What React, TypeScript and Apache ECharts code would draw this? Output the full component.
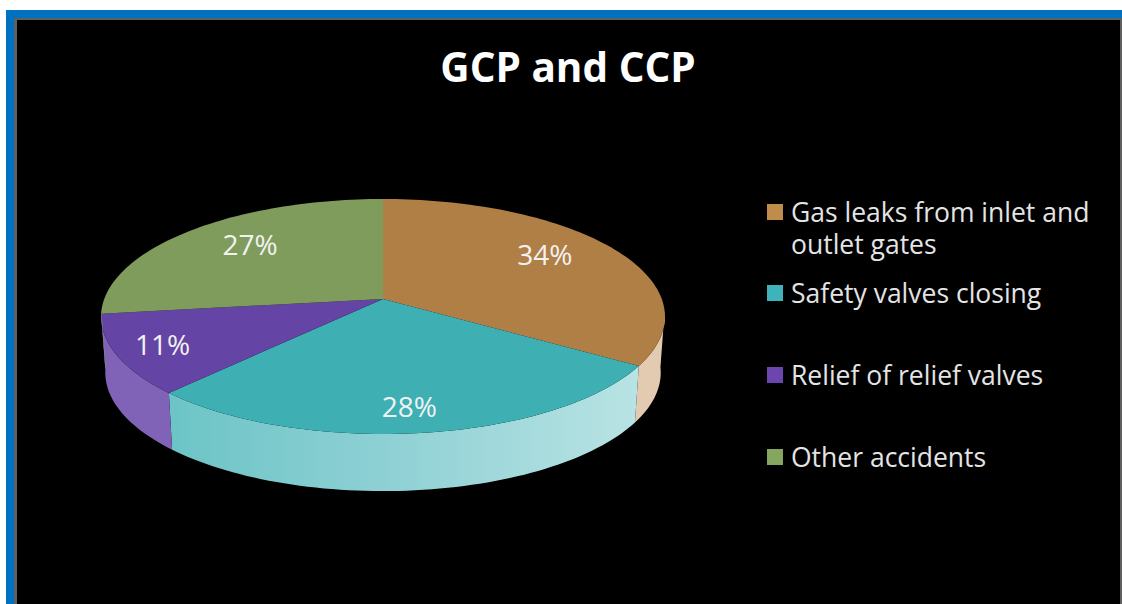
import React, { useEffect, useRef } from "react";
import * as echarts from "echarts";

const categories = [
  "Gas leaks from inlet and outlet gates",
  "Safety valves closing",
  "Relief of relief valves",
  "Other accidents",
];
const shares = [34, 28, 11, 27];
const legendLabels = [
  "Gas leaks from inlet and\noutlet gates",
  "Safety valves closing",
  "Relief of relief valves",
  "Other accidents",
];

const topColors = ["#b07f45", "#3eafb3", "#6444a4", "#809c5c"];
const legendColors = ["#c08c4c", "#3fb3bb", "#6b46b0", "#86a55f"];

// Walls are lit from the right, so the teal wall fades towards pale on that side.
const wallFills: any[] = [
  "#e2cbb0",
  {
    type: "linear",
    x: 0,
    y: 0,
    x2: 1,
    y2: 0,
    colorStops: [
      { offset: 0, color: "#6cc4c6" },
      { offset: 0.45, color: "#8dd0d4" },
      { offset: 1, color: "#b9e3e4" },
    ],
  },
  "#8062b6",
  "#8fa96c",
];

// Perspective disc: apex of the top face, half axes and foreshortening.
const APEX_X = 383;
const APEX_Y = 299;
const AXIS_X = 278.8;
const AXIS_Y = 114.9;
const TILT = 0.149;
const WALL_APEX_Y = 355;
const WALL_SCALE_X = 0.985;
const WALL_SCALE_Y = 1.008;
const FRONT_FROM = 96;
const FRONT_TO = 264;
const LABEL_RADIUS = 0.7;
const labelShifts = [
  [-1, -8],
  [-1, 18],
  [-38, 7],
  [4, -5],
];

const project = (deg: number, r: number, sx: number, sy: number, apexY: number) => {
  const t = (deg * Math.PI) / 180;
  const X = Math.sin(t) * r;
  const Y = -Math.cos(t) * r;
  const d = 1 - TILT * Y;
  return [APEX_X + (sx * AXIS_X * X) / d, apexY + (sy * AXIS_Y * Y) / d];
};

const arc = (from: number, to: number, sx: number, sy: number, apexY: number) => {
  const pts: number[][] = [];
  const steps = Math.max(2, Math.ceil((to - from) / 1.5));
  for (let i = 0; i <= steps; i++) {
    pts.push(project(from + ((to - from) * i) / steps, 1, sx, sy, apexY));
  }
  return pts;
};

const total = shares.reduce((a, b) => a + b, 0);

const sliceSeries = (index: number) => ({
  type: "custom",
  name: categories[index],
  coordinateSystem: "none",
  silent: true,
  itemStyle: { color: legendColors[index] },
  data: [[shares[index]]],
  renderItem: (_params: any, api: any) => {
    const before = shares.slice(0, index).reduce((a, b) => a + b, 0);
    const start = (before / total) * 360;
    const end = start + (api.value(0) / total) * 360;
    const children: any[] = [];
    const wallFrom = Math.max(start, FRONT_FROM);
    const wallTo = Math.min(end, FRONT_TO);
    if (wallTo > wallFrom) {
      const upper = arc(wallFrom, wallTo, 1, 1, APEX_Y);
      const lower = arc(wallFrom, wallTo, WALL_SCALE_X, WALL_SCALE_Y, WALL_APEX_Y).reverse();
      children.push({
        type: "polygon",
        shape: { points: upper.concat(lower) },
        style: { fill: wallFills[index] },
      });
    }
    children.push({
      type: "polygon",
      shape: { points: [[APEX_X, APEX_Y] as number[]].concat(arc(start, end, 1, 1, APEX_Y)) },
      style: { fill: topColors[index] },
    });
    const [lx, ly] = project((start + end) / 2, LABEL_RADIUS, 1, 1, APEX_Y);
    children.push({
      type: "text",
      x: lx + labelShifts[index][0],
      y: ly + labelShifts[index][1],
      style: {
        text: `${api.value(0)}%`,
        fill: "#f2f2f2",
        fontFamily: "Open Sans",
        fontSize: 28,
        align: "center",
        verticalAlign: "middle",
      },
    });
    return { type: "group", children };
  },
});

// The two-line entry keeps its swatch level with the first line: the tiny second
// sub-path stretches the icon box downwards without drawing anything visible.
const legendTops = [196, 277, 359, 441];
const tallIcon = "path://M0 0H16V16H0Z M0 48h0.01v0.01h-0.01Z";

const legends = categories.map((name, i) => ({
  left: 767,
  top: legendTops[i],
  padding: 0,
  orient: "vertical",
  selectedMode: false,
  data: [name],
  icon: i === 0 ? tallIcon : "rect",
  itemWidth: 16,
  itemHeight: i === 0 ? 48 : 16,
  itemGap: 0,
  formatter: () => legendLabels[i],
  textStyle: {
    color: "#e4e4e4",
    fontFamily: "Open Sans",
    fontSize: 26.5,
    lineHeight: 32,
    padding: [0, 0, 0, 3],
  },
}));

const frame = [
  { x: 6, y: 10, w: 1116, h: 8, fill: "#0070c0" },
  { x: 6, y: 10, w: 8, h: 594, fill: "#0070c0" },
  { x: 0, y: 0, w: 1122, h: 10, fill: "#ffffff" },
  { x: 0, y: 0, w: 6, h: 604, fill: "#ffffff" },
  { x: 14, y: 18, w: 1108, h: 2, fill: "#606060" },
  { x: 14, y: 18, w: 3, h: 586, fill: "#606060" },
  { x: 1120, y: 18, w: 2, h: 586, fill: "#606060" },
];

export default function App() {
  const ref = useRef<HTMLDivElement>(null);

  useEffect(() => {
    document.body.style.margin = "0";
    const chart = echarts.init(ref.current!, undefined, { renderer: "svg" });
    chart.setOption({
      animation: false,
      backgroundColor: "#000000",
      title: {
        text: "GCP and CCP",
        left: 563,
        top: 41,
        textAlign: "center",
        textStyle: { color: "#ffffff", fontFamily: "Open Sans", fontWeight: "bold", fontSize: 40.5 },
      },
      legend: legends,
      graphic: frame.map((f) => ({
        type: "rect",
        silent: true,
        shape: { x: f.x, y: f.y, width: f.w, height: f.h },
        style: { fill: f.fill },
      })),
      series: categories.map((_, i) => sliceSeries(i)),
    });
    return () => chart.dispose();
  }, []);

  return <div ref={ref} style={{ width: 1122, height: 604 }} />;
}
